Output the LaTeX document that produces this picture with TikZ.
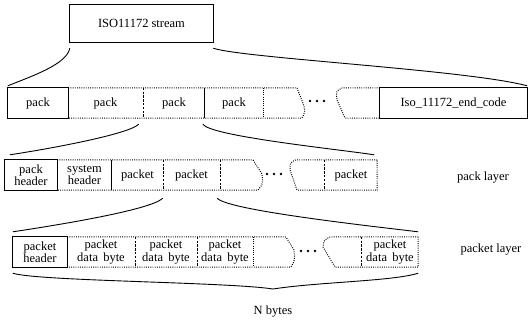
\documentclass[tikz,border=0pt]{standalone}
\usepackage{fontspec}
\setmainfont{Liberation Serif}
\tikzset{
  cell/.style={inner sep=0pt, minimum height=30pt, align=center, font=\fontsize{12.5}{9.5}\selectfont},
  full/.style={line width=1.2pt},
  dots/.style={line width=1pt, dash pattern=on 0.9pt off 1.3pt},
  dashes/.style={line width=1pt, dash pattern=on 2.4pt off 1.4pt},
  curveline/.style={line width=0.9pt}
}
\begin{document}
\begin{tikzpicture}[x=1pt,y=-1pt,font=\fontsize{12.5}{14}\selectfont]
\useasboundingbox (0,0) rectangle (529,329);

% stream
\node[cell, minimum width=143pt, minimum height=37pt, font=\fontsize{12.5}{14}\selectfont] (strm) at (141.5,23.5) {ISO11172 stream};
\draw[full] (strm.north west) rectangle (strm.south east);

% pack
\node[cell, minimum width=60pt] (pkA) at (38,103) {pack};
\node[cell, minimum width=75pt] (pkB) at (105.5,103) {pack};
\node[cell, minimum width=62pt] (pkC) at (174,103) {pack};
\node[cell, minimum width=58pt] (pkD) at (234,103) {pack};
\node[cell, minimum width=147pt] (endc) at (453.5,103) {Iso\_11172\_end\_code};
\draw[full] (pkA.north west) rectangle (pkA.south east);
\draw[dots] (pkA.north east) -- (pkD.north east) -- (297,88) -- (304,106) .. controls (305,112) .. (302,118) -- (pkD.south east) -- (pkA.south east);
\draw[dashes] (pkB.north east) -- (pkB.south east);
\draw[full] (pkD.north west) -- (pkD.south west);
\draw[dots] (pkD.north east) -- (pkD.south east);
\draw[dots] (endc.north west) -- (342,88) .. controls (336,91) .. (337,100) -- (345,118) -- (endc.south west);
\draw[full] (endc.north west) rectangle (endc.south east);
\foreach \x in {310,317,324} \fill (\x,101) circle (1.3pt);

% pack layer
\node[cell, minimum width=52pt] (phd) at (31,175) {pack\\header};
\node[cell, minimum width=55pt] (shd) at (84.5,175) {system\\header};
\node[cell, minimum width=51pt] (pkt1) at (137.5,175) {packet};
\node[cell, minimum width=57pt] (pkt2) at (191.5,175) {packet};
\node[cell, minimum width=52pt] (pktn) at (351,175) {packet};
\draw[full] (phd.north west) rectangle (phd.south east);
\draw[dots] (phd.north east) -- (pkt2.north east) -- (253,160) -- (262,174) .. controls (263,184) .. (258,190) -- (pkt2.south east) -- (phd.south east);
\draw[full] (pkt1.north west) -- (pkt1.south west);
\draw[dashes] (pkt1.north east) -- (pkt1.south east);
\draw[dashes] (pkt2.north east) -- (pkt2.south east);
\draw[dots] (pktn.north east) -- (295,160) .. controls (290,163) .. (290,170) -- (297,190) -- (pktn.south east) -- cycle;
\draw[dashes] (pktn.north west) -- (pktn.south west);
\foreach \x in {267,274,281} \fill (\x,174) circle (1.3pt);
\node (lpack) at (483,178) {pack layer};

% packet layer
\node[cell, minimum width=54pt] (kth) at (40,252) {packet\\header};
\node[cell, minimum width=68pt] (db1) at (101,252) {packet\\data\, byte};
\node[cell, minimum width=62pt] (db2) at (166,252) {packet\\data\, byte};
\node[cell, minimum width=56pt] (db3) at (225,252) {packet\\data\, byte};
\node[cell, minimum width=56pt] (dbn) at (390,252) {packet\\data\, byte};
\draw[full] (kth.north west) rectangle (kth.south east);
\draw[dots] (kth.north east) -- (db3.north east) -- (286,237) -- (294,250) .. controls (295,260) .. (291,267) -- (db3.south east) -- (kth.south east);
\draw[dashes] (db1.north east) -- (db1.south east);
\draw[dashes] (db2.north east) -- (db2.south east);
\draw[dots] (db3.north east) -- (db3.south east);
\draw[dots] (dbn.north east) -- (330,237) .. controls (324,240) .. (323,247) -- (335,267) -- (dbn.south east) -- cycle;
\draw[dashes] (dbn.north west) -- (dbn.south west);
\foreach \x in {301,308,315} \fill (\x,251) circle (1.3pt);
\node (lpkt) at (491,250) {packet layer};

% curves
\draw[curveline] ([yshift=-6pt]strm.south west) .. controls +(-3,16) and +(25,-10) .. ([yshift=2pt]pkA.north west);
\draw[curveline] ([yshift=-6pt]strm.south east) .. controls +(30,10) and +(-60,-16) .. ([yshift=2pt]endc.north east);
\draw[curveline] ([xshift=-4pt,yshift=-6pt]pkC.south west) .. controls +(-10,10) and +(40,-6) .. ([xshift=5pt,yshift=5pt]phd.north west);
\draw[curveline] ([xshift=-2pt,yshift=-6pt]pkD.south west) .. controls +(8,12) and +(-40,-6) .. ([xshift=-3pt,yshift=5pt]pktn.north east);
\draw[curveline] ([yshift=-8pt]pkt2.south west) .. controls +(-12,12) and +(40,-6) .. ([yshift=5pt]kth.north west);
\draw[curveline] ([xshift=-3pt,yshift=-8pt]pkt2.south east) .. controls +(10,12) and +(-50,-6) .. ([yshift=5pt]dbn.north east);

% N bytes
\coordinate (tip) at (273,289);
\draw[curveline] ([yshift=-6pt]kth.south west) .. controls +(25,8) and +(-45,-7) .. (tip) .. controls +(45,-7) and +(-25,8) .. ([yshift=-6pt]dbn.south east);
\node (nb) at (273,312) {N bytes};
\end{tikzpicture}
\end{document}
